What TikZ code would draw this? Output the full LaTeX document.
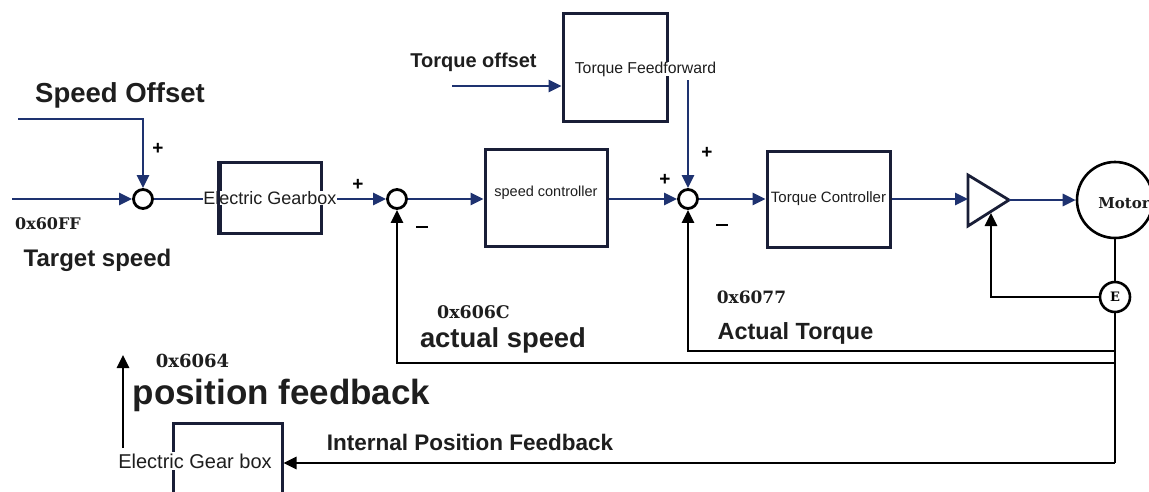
\documentclass[tikz,border=0pt]{standalone}
\usepackage{fontspec}
\setmainfont{Liberation Sans}
\newfontfamily\hexfont{DejaVu Serif}
\usetikzlibrary{arrows.meta}
\definecolor{sig}{RGB}{30,50,112}
\definecolor{boxline}{RGB}{25,30,55}
\definecolor{ink}{RGB}{30,30,30}
\begin{document}
\begin{tikzpicture}[x=1pt,y=-1pt,
  tip/.style={-{Triangle[length=13pt,width=12pt]}},
  sigline/.style={draw=sig, line width=2.7pt},
  fbline/.style={draw=black, line width=2.7pt},
  sigarrow/.style={sigline, tip},
  fbarrow/.style={fbline, tip},
  block/.style={draw=boxline, line width=3pt, inner sep=0pt},
  sumjn/.style={circle, draw=black, line width=2.8pt, fill=white, minimum size=19pt, inner sep=0pt},
  lbl/.style={inner sep=0pt, text=ink, font=\bfseries\fontsize{#1}{#1}\selectfont},
  hex/.style={inner sep=0pt, text=ink, font=\hexfont\bfseries\fontsize{#1}{#1}\selectfont},
  txt/.style={inner sep=0pt, text=ink, font=\fontsize{#1}{#1}\selectfont},
  sign/.style={inner sep=0pt, text=black, font=\bfseries\fontsize{19}{19}\selectfont}
]
\useasboundingbox (0,0) rectangle (1149,491);
\fill[white] (0,0) rectangle (1149,491);

% blocks
\node[block, minimum width=101pt, minimum height=71pt] (gb) at (270.5,197.5) {};
\node[block, minimum width=122pt, minimum height=97pt] (sc) at (546,197.5) {};
\node[block, minimum width=123pt, minimum height=96pt] (tc) at (828.5,199) {};
\node[block, minimum width=104pt, minimum height=108pt] (tff) at (615,67) {};
\node[block, minimum width=109pt, minimum height=120pt] (gb2) at (227.5,483) {};

% summing junctions
\node[sumjn] (s1) at (143,199) {};
\node[sumjn] (s2) at (397,199) {};
\node[sumjn] (s3) at (688,199) {};

% power amplifier
\draw[draw=boxline, line width=2.8pt, line join=miter] (968,175) -- (968,226) -- (1009,200) coordinate (amp-tip) -- cycle;
\coordinate (amp-in) at (968,199);
\coordinate (amp-low) at (991,213);

% motor and encoder
\node[circle, draw=black, line width=2.6pt, minimum size=76pt, inner sep=0pt] (motor) at (1115,200) {};
\node[circle, draw=black, line width=2.6pt, fill=white, minimum size=30pt, inner sep=0pt,
      font=\hexfont\bfseries\fontsize{13}{13}\selectfont] (enc) at (1115,297) {E};
\draw[fbline] (motor.south) -- (enc.north);

% feedback paths
\coordinate (fb-t) at (1115,351);
\coordinate (fb-v) at (1115,363);
\coordinate (fb-p) at (1115,463);
\draw[fbline] (enc.south) -- (fb-p);
\draw[fbarrow] (fb-t) -| (s3);
\draw[fbarrow] (fb-v) -| (s2);
\draw[fbarrow] (fb-p) -- (fb-p -| gb2.east);
\draw[fbarrow] (enc.west) -| (amp-low);
\coordinate (pf-a) at (123,448);
\coordinate (pf-b) at (123,355);
\draw[fbarrow] (pf-a) -- (pf-b);

% forward paths
\coordinate (in) at (12,199);
\coordinate (so) at (18,119);
\coordinate (tor) at (452,86);
\coordinate (ff) at (688,80);
\draw[sigarrow] (in) -- (s1);
\draw[sigarrow] (so) -| (s1);
\draw[sigarrow] (s1) -- (s2);
\draw[sigarrow] (s2) -- (s2 -| sc.west);
\draw[sigarrow] (s3 -| sc.east) -- (s3);
\draw[sigarrow] (s3) -- (s3 -| tc.west);
\draw[sigarrow] (s3 -| tc.east) -- (amp-in);
\draw[sigarrow] (amp-tip) -- (amp-tip -| motor.west);
\draw[sigarrow] (tor) -- (tor -| tff.west);
\draw[sigarrow] (ff) -- (s3);

% block captions
\node[txt=18, fill=white] (gbt) at (270,198) {Electric Gearbox};
\draw[draw=boxline, line width=3pt] (gb.north west) -- (gb.south west);
\node[txt=14.5] (sct) at (546,193) {speed controller};
\node[txt=15] (tct) at (828.5,199) {Torque Controller};
\node[txt=15.8, fill=white] (tfft) at (645.5,69) {Torque Feedforward};
\node[txt=20, fill=white, inner ysep=2pt] (gb2t) at (195,461) {Electric Gear box};
\node[hex=15] (mt) at (1124,203) {Motor};

% signal labels
\node[lbl=27.5] (l-so) at (120,95) {Speed Offset};
\node[hex=16] (l-tsh) at (48,224) {0x60FF};
\node[lbl=24] (l-ts) at (97.5,260) {Target speed};
\node[lbl=20] (l-to) at (473.5,62) {Torque offset};
\node[hex=17.4] (l-ash) at (473.5,312) {0x606C};
\node[lbl=27.4] (l-as) at (503,340) {actual speed};
\node[hex=17] (l-ath) at (751.5,297) {0x6077};
\node[lbl=23.4] (l-at) at (795.5,333) {Actual Torque};
\node[hex=18] (l-pfh) at (192.5,361) {0x6064};
\node[lbl=35] (l-pf) at (281.5,395) {position feedback};
\node[lbl=22.5] (l-ipf) at (470,442) {Internal Position Feedback};

% junction signs
\node[sign] (p1) at (158,149) {+};
\node[sign] (p2) at (358,185) {+};
\node[sign] (m2) at (422,227) {\rule{12pt}{2.8pt}};
\node[sign] (p3) at (665,180) {+};
\node[sign] (p4) at (707,153) {+};
\node[sign] (m3) at (722,225) {\rule{12pt}{2.8pt}};
\end{tikzpicture}
\end{document}
